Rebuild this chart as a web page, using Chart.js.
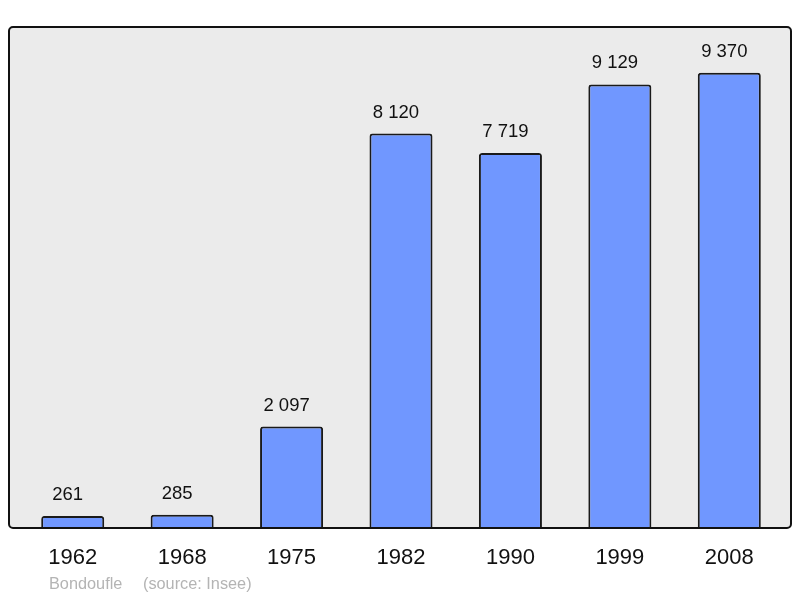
<!DOCTYPE html>
<html>
<head>
<meta charset="utf-8">
<script src="https://cdn.jsdelivr.net/npm/chart.js@4/dist/chart.umd.min.js"></script>
<style>
  html, body { margin: 0; padding: 0; background: #fff; }
  #wrap { width: 800px; height: 598px; position: relative; }
</style>
</head>
<body>
<div id="wrap"><canvas id="chart"></canvas></div>
<script>
const years = ['1962', '1968', '1975', '1982', '1990', '1999', '2008'];
const population = [261, 285, 2097, 8120, 7719, 9129, 9370];
const footerLeft = 'Bondoufle';
const footerRight = '(source: Insee)';

const FONT = '"Liberation Sans", Arial, sans-serif';

function fmt(n) {
  return String(n).replace(/\B(?=(\d{3})+(?!\d))/g, ' ');
}

// grey frame behind the bars, black outline on top
const framePlugin = {
  id: 'frame',
  beforeDatasetsDraw(chart) {
    const { ctx } = chart;
    ctx.save();
    ctx.fillStyle = '#ebebeb';
    ctx.beginPath();
    ctx.roundRect(9, 27, 782, 501, 4);
    ctx.fill();
    ctx.restore();
  },
  afterDatasetsDraw(chart) {
    const { ctx } = chart;
    const meta = chart.getDatasetMeta(0);
    ctx.save();
    ctx.strokeStyle = '#111';
    ctx.lineWidth = 2;
    ctx.beginPath();
    ctx.roundRect(9, 27, 782, 501, 4);
    ctx.stroke();

    // value labels sit a little left of the bar centre, as in the original
    ctx.fillStyle = '#111';
    ctx.font = '18.5px ' + FONT;
    ctx.textAlign = 'center';
    ctx.textBaseline = 'alphabetic';
    meta.data.forEach((bar, i) => {
      ctx.fillText(fmt(population[i]), bar.x - 5, bar.y - 16);
    });

    ctx.fillStyle = '#b4b4b4';
    ctx.font = '16.3px ' + FONT;
    ctx.textAlign = 'left';
    ctx.fillText(footerLeft, 49, 589);
    ctx.fillText(footerRight, 143, 589);
    ctx.restore();
  },
};

new Chart(document.getElementById('chart'), {
  type: 'bar',
  data: {
    labels: years,
    datasets: [
      {
        data: population,
        backgroundColor: '#7097ff',
        borderColor: '#1a1a1a',
        borderWidth: 2,
        borderRadius: 3,
        borderSkipped: 'start',
        categoryPercentage: 1,
        barPercentage: 0.576,
      },
    ],
  },
  options: {
    responsive: true,
    maintainAspectRatio: false,
    animation: false,
    layout: { padding: { top: 27, left: 18, right: 16, bottom: 11 } },
    plugins: { legend: { display: false }, tooltip: { enabled: false } },
    scales: {
      y: { display: false, min: 0, max: 10310 },
      x: {
        grid: { display: false, drawTicks: false },
        border: { display: false },
        ticks: { color: '#111', padding: 16, font: { family: FONT, size: 22 } },
      },
    },
  },
  plugins: [framePlugin],
});
</script>
</body>
</html>
